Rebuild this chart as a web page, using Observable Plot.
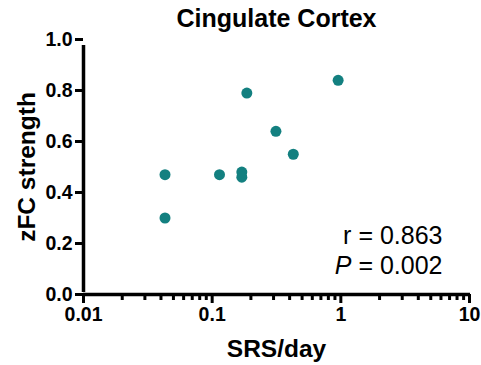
<!DOCTYPE html>
<html>
<head>
<meta charset="utf-8">
<script src="https://cdn.jsdelivr.net/npm/d3@7"></script>
<script src="https://cdn.jsdelivr.net/npm/@observablehq/plot@0.6"></script>
<style>
  html, body { margin: 0; padding: 0; background: #ffffff; }
</style>
</head>
<body>
<div id="chart"></div>
<script>
const titleText = "Cingulate Cortex";
const xLabel = "SRS/day";
const yLabel = "zFC strength";
const srsPerDay   = [0.043, 0.043, 0.114, 0.170, 0.170, 0.186, 0.313, 0.427, 0.953];
const zfcStrength = [0.47, 0.30, 0.47, 0.48, 0.46, 0.79, 0.64, 0.55, 0.84];
const xMajorTicks = [0.01, 0.1, 1, 10];
const xTickLabels = ["0.01", "0.1", "1", "10"];
const yTicks = [0, 0.2, 0.4, 0.6, 0.8, 1.0];
const yTickLabels = ["0.0", "0.2", "0.4", "0.6", "0.8", "1.0"];
const statLines = ["r = 0.863", "P = 0.002"];

const points = srsPerDay.map((x, i) => ({x, y: zfcStrength[i]}));
const xMinorTicks = [];
for (const d of xMajorTicks.slice(0, -1)) for (let k = 2; k <= 9; k++) xMinorTicks.push(d * k);

const font = "'Liberation Sans', Arial, Helvetica, sans-serif";

const chart = Plot.plot({
  width: 481,
  height: 365,
  marginLeft: 83,
  marginRight: 12,
  marginTop: 39,
  marginBottom: 71,
  style: {fontFamily: font, color: "#000", background: "#fff", overflow: "visible"},
  x: {type: "log", domain: [0.01, 10], label: null},
  y: {domain: [0, 1], label: null},
  marks: [
    Plot.axisX({ticks: xMinorTicks, tickSize: 6, strokeWidth: 3, stroke: "#000", tickFormat: null, label: null, text: null}),
    Plot.axisX({ticks: xMajorTicks, tickSize: 9, tickPadding: 4, strokeWidth: 3, stroke: "#000",
      tickFormat: d => xTickLabels[xMajorTicks.indexOf(d)], label: null,
      fontSize: 19.5, fontWeight: "bold", fontFamily: font, fill: "#000"}),
    Plot.axisY({ticks: yTicks, tickSize: 8, tickPadding: 3, strokeWidth: 3, stroke: "#000",
      tickFormat: d => yTickLabels[yTicks.indexOf(d)], label: null,
      fontSize: 19.5, fontWeight: "bold", fontFamily: font, fill: "#000"}),
    Plot.ruleX([0.01], {stroke: "#000", strokeWidth: 3.5, y1: 0, y2: 1, insetTop: -2, insetBottom: -6}),
    Plot.ruleY([0], {stroke: "#000", strokeWidth: 3.5, insetRight: -1}),
    Plot.dot(points, {x: "x", y: "y", r: 5.5, fill: "#138080", stroke: "none"}),
    Plot.text([titleText], {frameAnchor: "top", dy: -20.5, lineAnchor: "middle", text: d => d,
      fontSize: 25, fontWeight: "bold", fontFamily: font, fill: "#000"}),
    Plot.text([xLabel], {frameAnchor: "bottom", dy: 55, lineAnchor: "middle", text: d => d,
      fontSize: 24.5, fontWeight: "bold", fontFamily: font, fill: "#000"}),
    Plot.text([yLabel], {frameAnchor: "left", dx: -56, rotate: -90, textAnchor: "middle", lineAnchor: "middle", text: d => d,
      fontSize: 24.5, fontWeight: "bold", fontFamily: font, fill: "#000"}),
    Plot.text([statLines[0]], {frameAnchor: "bottom-right", dx: -27, dy: -59, textAnchor: "end", lineAnchor: "middle", text: d => d,
      fontSize: 25, fontFamily: font, fill: "#000"}),
    Plot.text([statLines[1]], {frameAnchor: "bottom-right", dx: -27, dy: -29, textAnchor: "end", lineAnchor: "middle", text: d => d,
      fontSize: 25, fontFamily: font, fill: "#000"})
  ]
});

chart.querySelectorAll("text").forEach(t => {
  if (t.textContent === statLines[1]) {
    const rest = statLines[1].slice(1);
    t.textContent = "";
    const ns = "http://www.w3.org/2000/svg";
    const a = document.createElementNS(ns, "tspan");
    a.setAttribute("font-style", "italic");
    a.textContent = statLines[1][0];
    const b = document.createElementNS(ns, "tspan");
    b.textContent = rest;
    t.appendChild(a);
    t.appendChild(b);
  }
});

document.getElementById("chart").appendChild(chart);
</script>
</body>
</html>
